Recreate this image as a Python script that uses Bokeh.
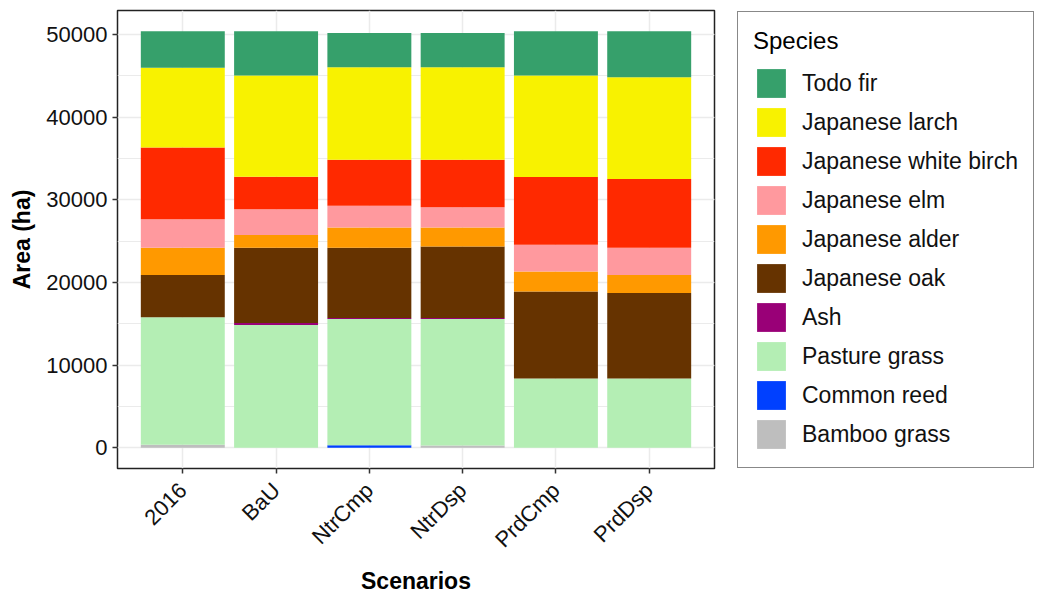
import math
from bokeh.plotting import figure
from bokeh.layouts import row
from bokeh.models import (FactorRange, Range1d, SingleIntervalTicker, NumeralTickFormatter,
                          Legend, LegendItem, ColumnDataSource)
from bokeh.embed import file_html
from bokeh.resources import INLINE

scenarios = ["2016", "BaU", "NtrCmp", "NtrDsp", "PrdCmp", "PrdDsp"]

# stacking order, bottom to top
species = ["Bamboo grass", "Common reed", "Pasture grass", "Ash", "Japanese oak",
           "Japanese alder", "Japanese elm", "Japanese white birch", "Japanese larch", "Todo fir"]

bamboo_grass = [350, 0, 0, 250, 0, 0]
common_reed = [0, 0, 300, 0, 0, 0]
pasture_grass = [15450, 14850, 15280, 15330, 8370, 8370]
ash = [0, 250, 120, 120, 0, 0]
japanese_oak = [5100, 9100, 8500, 8650, 10540, 10340]
japanese_alder = [3300, 1550, 2450, 2300, 2420, 2190]
japanese_elm = [3450, 3100, 2650, 2450, 3220, 3290]
japanese_white_birch = [8700, 3950, 5550, 5750, 8220, 8330]
japanese_larch = [9650, 12250, 11200, 11200, 12280, 12320]
todo_fir = [4400, 5350, 4150, 4150, 5350, 5560]

colors = ["#BEBEBE", "#0040FF", "#B4EEB4", "#990077", "#663300",
          "#FF9900", "#FF999E", "#FF2900", "#F8F200", "#36A06B"]

series = [bamboo_grass, common_reed, pasture_grass, ash, japanese_oak,
          japanese_alder, japanese_elm, japanese_white_birch, japanese_larch, todo_fir]

data = {"scenario": scenarios}
keys = []
for i, vals in enumerate(series):
    k = "s%d" % i
    keys.append(k)
    data[k] = vals
source = ColumnDataSource(data)

FONT = "Liberation Sans"

p = figure(width=736, height=597, output_backend="svg", toolbar_location=None,
           x_range=FactorRange(*scenarios, range_padding=0.2, range_padding_units="absolute"),
           y_range=Range1d(-2520, 52920),
           min_border_left=117, min_border_right=22, min_border_top=10, min_border_bottom=128)

renderers = p.vbar_stack(keys, x="scenario", width=0.9, color=colors, line_color=None,
                         source=source)

p.background_fill_color = "white"
p.border_fill_color = "white"
p.outline_line_color = "#222222"
p.outline_line_width = 1.5

p.xgrid.grid_line_color = "#EBEBEB"
p.xgrid.grid_line_width = 1.5
p.ygrid.grid_line_color = "#EBEBEB"
p.ygrid.grid_line_width = 1.5
p.ygrid.minor_grid_line_color = "#EBEBEB"
p.ygrid.minor_grid_line_width = 1

p.yaxis.ticker = SingleIntervalTicker(interval=10000, num_minor_ticks=2)
p.yaxis.formatter = NumeralTickFormatter(format="0")

for ax in (p.xaxis[0], p.yaxis[0]):
    ax.axis_line_color = None
    ax.major_tick_line_color = "#333333"
    ax.major_tick_line_width = 1.5
    ax.major_tick_out = 5
    ax.major_tick_in = 0
    ax.minor_tick_line_color = None
    ax.major_label_text_font = FONT
    ax.major_label_text_font_size = "22px"
    ax.major_label_text_color = "#111111"
    ax.major_label_standoff = 5
    ax.axis_label_text_font = FONT
    ax.axis_label_text_font_size = "23px"
    ax.axis_label_text_font_style = "bold"
    ax.axis_label_text_color = "black"

p.xaxis.major_label_orientation = math.pi / 4
p.xaxis.major_label_standoff = 13
p.xaxis.axis_label = "Scenarios"
p.xaxis.axis_label_standoff = 4
p.yaxis.axis_label = "Area (ha)"
p.yaxis.axis_label_standoff = 8

# legend panel (separate canvas so that the legend is not clipped by the plot frame);
# it carries hidden copies of the stacked bars, used only for the legend keys
pl = figure(width=304, height=597, output_backend="svg", toolbar_location=None,
            x_axis_location=None, y_axis_location=None,
            min_border_left=0, min_border_right=0, min_border_top=0, min_border_bottom=0,
            x_range=FactorRange(*scenarios), y_range=Range1d(-2520, 52920))
pl.outline_line_color = None
pl.xgrid.visible = False
pl.ygrid.visible = False
pl.background_fill_color = "white"
pl.border_fill_color = "white"

key_renderers = pl.vbar_stack(keys, x="scenario", width=0.9, color=colors, line_color=None,
                              source=source)
for r in key_renderers:
    r.visible = False

items = [LegendItem(label=species[i], renderers=[key_renderers[i]])
         for i in reversed(range(len(species)))]
legend = Legend(items=items, location="top_left")
legend.title = "Species"
legend.title_text_font = FONT
legend.title_text_font_size = "24px"
legend.title_text_font_style = "normal"
legend.title_text_color = "black"
legend.title_standoff = 10
legend.label_text_font = FONT
legend.label_text_font_size = "23px"
legend.label_text_color = "#111111"
legend.label_standoff = 13
legend.glyph_width = 36
legend.glyph_height = 36
legend.spacing = 3
legend.padding = 15
legend.margin = 1
legend.inactive_fill_alpha = 0
legend.border_line_color = "#111111"
legend.border_line_width = 1.5
legend.background_fill_alpha = 1
pl.add_layout(legend)

layout = row(p, pl)
open("out.html", "w").write(file_html(layout, INLINE))
